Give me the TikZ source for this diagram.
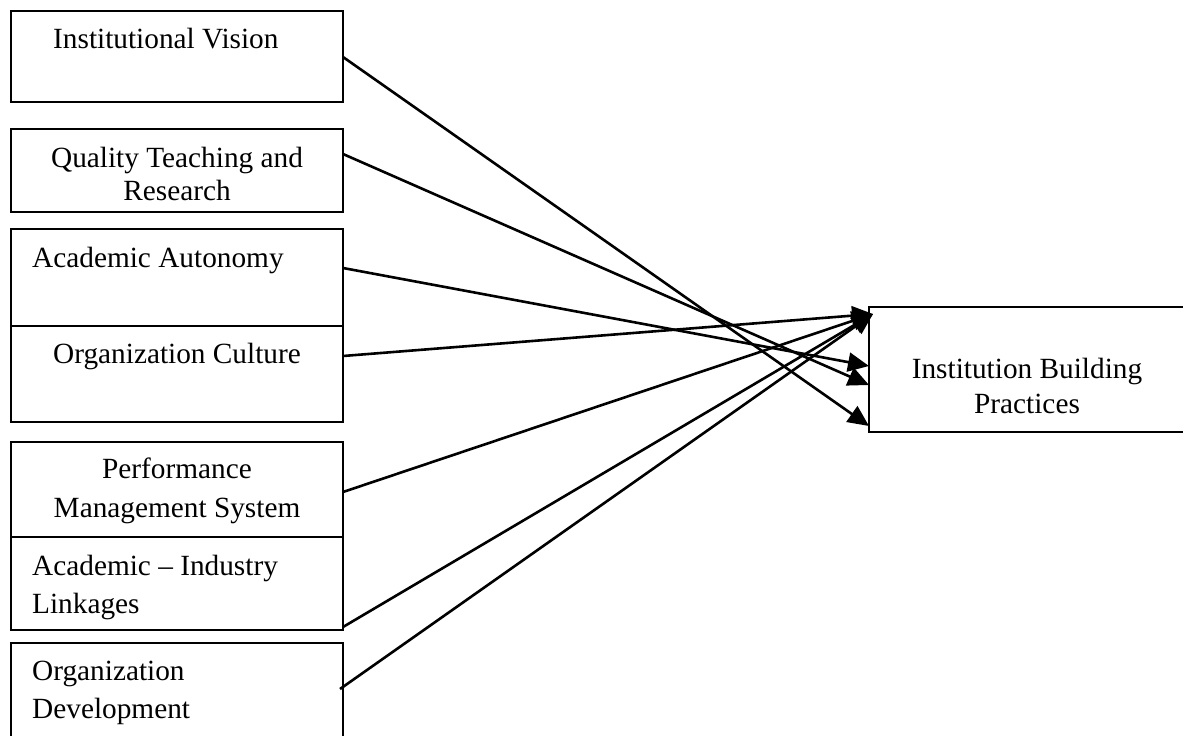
\documentclass[tikz,border=0pt]{standalone}
\usepackage{fontspec}
\setmainfont{Liberation Serif}
\usetikzlibrary{arrows.meta,calc}
\begin{document}
\begin{tikzpicture}[x=1pt,y=-1pt,
  box/.style={draw,line width=1.9pt,rectangle,outer sep=0pt,inner sep=0pt,anchor=north west},
  lbl/.style={inner sep=0pt,font=\fontsize{29.3}{38}\selectfont},
  arr/.style={line width=2.6pt,-{Triangle[length=21pt,width=19pt]}}]
\useasboundingbox (0,0) rectangle (1183,736);
\clip (0,0) rectangle (1183,736);
% left boxes
\node[box,minimum width=332pt,minimum height=91pt] (iv) at (11,11) {};
\node[box,minimum width=332pt,minimum height=83pt] (qtr) at (11,129) {};
\node[box,minimum width=332pt,minimum height=97pt] (aa) at (11,229) {};
\node[box,minimum width=332pt,minimum height=96pt] (oc) at (11,326) {};
\node[box,minimum width=332pt,minimum height=95pt] (pms) at (11,442) {};
\node[box,minimum width=332pt,minimum height=93pt] (ail) at (11,537) {};
\node[box,minimum width=332pt,minimum height=120pt] (od) at (11,643) {};
% right box
\node[box,minimum width=340pt,minimum height=125pt] (ibp) at (869,307) {};
% texts
\node[lbl,anchor=base west] (tiv) at (53,48) {Institutional Vision};
\node[lbl,anchor=base] (tqtr1) at (177,167) {Quality Teaching and};
\node[lbl,anchor=base] (tqtr2) at (177,200) {Research};
\node[lbl,anchor=base west] (taa) at (32,267) {Academic Autonomy};
\node[lbl,anchor=base west] (toc) at (53,363) {Organization Culture};
\node[lbl,anchor=base] (tpms1) at (177,478) {Performance};
\node[lbl,anchor=base] (tpms2) at (177,517) {Management System};
\node[lbl,anchor=base west] (tail1) at (32,575) {Academic -- Industry};
\node[lbl,anchor=base west] (tail2) at (32,613) {Linkages};
\node[lbl,anchor=base west] (tod1) at (32,680) {Organization};
\node[lbl,anchor=base west] (tod2) at (32,718) {Development};
\node[lbl,anchor=base] (tibp1) at (1027,378) {Institution Building};
\node[lbl,anchor=base] (tibp2) at (1027,413) {Practices};
% arrow end points on the target box
\coordinate (e1) at ($(ibp.north west)+(4,7)$);
\coordinate (e2) at ($(ibp.north west)+(0,59)$);
\coordinate (e3) at ($(ibp.north west)+(0,78)$);
\coordinate (e4) at ($(ibp.north west)+(0,119)$);
% connectors
\draw[arr] ($(iv.north east)+(0,46)$) -- (e4);
\draw[arr] ($(qtr.north east)+(0,25)$) -- (e3);
\draw[arr] ($(aa.north east)+(0,39)$) -- (e2);
\draw[arr] ($(oc.north east)+(0,30)$) -- (e1);
\draw[arr] ($(pms.north east)+(0,50)$) -- (e1);
\draw[arr] ($(ail.north east)+(0,90)$) -- (e1);
\draw[arr] ($(od.north east)+(-3,46)$) -- (e1);
\end{tikzpicture}
\end{document}
